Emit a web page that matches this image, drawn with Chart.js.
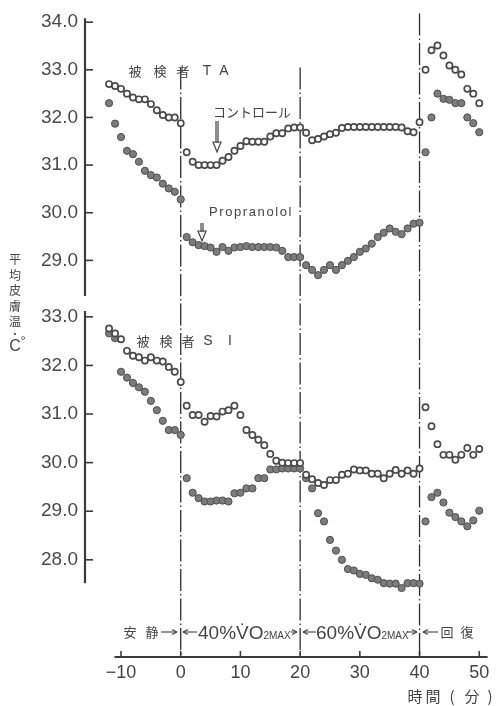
<!DOCTYPE html>
<html lang="ja">
<head>
<meta charset="utf-8">
<title>平均皮膚温の変化</title>
<script src="https://cdn.jsdelivr.net/npm/chart.js@4.4.1/dist/chart.umd.min.js"></script>
<style>
  html, body { margin: 0; padding: 0; background: #fff; }
  #wrap { width: 504px; height: 706px; }
</style>
</head>
<body>
<div id="wrap"><canvas id="chart" width="504" height="706"></canvas></div>
<script>
// --- データ (時間 = 分) ---
const minutes = [
  -12, -11, -10, -9, -8, -7, -6, -5, -4, -3, -2, -1, 0,
  1, 2, 3, 4, 5, 6, 7, 8, 9, 10, 11, 12, 13, 14, 15, 16, 17, 18, 19, 20,
  21, 22, 23, 24, 25, 26, 27, 28, 29, 30, 31, 32, 33, 34, 35, 36, 37, 38, 39, 40,
  41, 42, 43, 44, 45, 46, 47, 48, 49, 50
];

// 被検者 TA
const taControl = [
  32.70, 32.66, 32.60, 32.50, 32.42, 32.38, 32.38, 32.28, 32.15, 32.05, 32.00, 32.00, 31.88,
  31.27, 31.07, 31.00, 31.00, 31.00, 31.00, 31.09, 31.17, 31.30, 31.40, 31.50, 31.49, 31.49, 31.49, 31.60, 31.67, 31.67, 31.77, 31.79, 31.79,
  31.68, 31.52, 31.55, 31.60, 31.65, 31.68, 31.78, 31.80, 31.80, 31.80, 31.80, 31.80, 31.80, 31.80, 31.80, 31.80, 31.79, 31.71, 31.69, 31.90,
  33.00, 33.41, 33.51, 33.30, 33.09, 33.00, 32.90, 32.60, 32.50, 32.30
];
const taPropranolol = [
  32.30, 31.87, 31.59, 31.30, 31.23, 31.07, 30.88, 30.79, 30.74, 30.61, 30.51, 30.44, 30.28,
  29.49, 29.38, 29.32, 29.30, 29.27, 29.18, 29.28, 29.20, 29.27, 29.28, 29.30, 29.28, 29.28, 29.28, 29.28, 29.27, 29.20, 29.07, 29.07, 29.07,
  28.90, 28.80, 28.69, 28.80, 28.90, 28.80, 28.90, 28.99, 29.07, 29.18, 29.25, 29.35, 29.49, 29.58, 29.67, 29.60, 29.55, 29.67, 29.77, 29.79,
  31.27, 32.00, 32.50, 32.39, 32.37, 32.30, 32.30, 32.00, 31.88, 31.69
];

// 被検者 SI
const siControl = [
  32.76, 32.66, 32.54, 32.30, 32.20, 32.17, 32.10, 32.17, 32.10, 32.08, 31.97, 31.87, 31.66,
  31.17, 30.98, 30.98, 30.84, 30.96, 30.95, 31.05, 31.08, 31.17, 30.98, 30.67, 30.57, 30.47, 30.36, 30.18, 30.04, 30.00, 29.99, 29.99, 29.99,
  29.75, 29.66, 29.58, 29.54, 29.64, 29.64, 29.75, 29.77, 29.86, 29.84, 29.84, 29.77, 29.77, 29.68, 29.77, 29.85, 29.77, 29.84, 29.77, 29.88,
  31.14, 30.75, 30.38, 30.16, 30.16, 30.06, 30.16, 30.30, 30.16, 30.28
];
const siPropranolol = [
  32.66, 32.56, 31.87, 31.75, 31.64, 31.55, 31.46, 31.27, 31.08, 30.86, 30.67, 30.67, 30.57,
  29.68, 29.38, 29.27, 29.20, 29.20, 29.22, 29.22, 29.20, 29.37, 29.38, 29.47, 29.47, 29.68, 29.68, 29.86, 29.86, 29.88, 29.88, 29.88, 29.88,
  29.68, 29.47, 28.96, 28.79, 28.41, 28.19, 28.00, 27.81, 27.78, 27.71, 27.69, 27.62, 27.59, 27.52, 27.51, 27.51, 27.42, 27.52, 27.52, 27.51,
  28.79, 29.29, 29.38, 29.18, 28.97, 28.88, 28.79, 28.69, 28.81, 29.01
];

// 目盛り
const xTicks = [-10, 0, 10, 20, 30, 40, 50];
const taTicks = [29, 30, 31, 32, 33, 34];
const siTicks = [28, 29, 30, 31, 32, 33];
const phaseBounds = [0, 20, 40];

const NUM_FONT = "'Liberation Sans', Arial, sans-serif";
const JP_FONT = "'Noto Sans CJK JP', 'Noto Sans', sans-serif";
const INK = '#3c3c3c';

function toPoints(values) {
  return values.map((v, i) => ({ x: minutes[i], y: v }));
}

function openSeries(label, values, axis) {
  return {
    label: label, data: toPoints(values), yAxisID: axis, showLine: false,
    pointRadius: 3.1, pointBorderWidth: 1.7,
    pointBorderColor: '#4a4a4a', pointBackgroundColor: '#ffffff'
  };
}
function filledSeries(label, values, axis) {
  return {
    label: label, data: toPoints(values), yAxisID: axis, showLine: false,
    pointRadius: 3.6, pointBorderWidth: 1,
    pointBorderColor: '#4e4e4e', pointBackgroundColor: '#7c7c7c'
  };
}

function yAxis(ticks, min, max, weight) {
  return {
    type: 'linear', position: 'left', stack: 'temp', stackWeight: weight,
    min: min, max: max,
    grid: { display: false, drawTicks: false },
    border: { display: false },
    afterBuildTicks: s => { s.ticks = ticks.map(v => ({ value: v })); },
    afterFit: s => { s.width = 84; },
    ticks: {
      padding: 6, color: '#4a4a4a',
      font: { family: NUM_FONT, size: 19 },
      callback: v => Number(v).toFixed(1)
    }
  };
}

// 線・文字など
function line(ctx, x1, y1, x2, y2) {
  ctx.beginPath(); ctx.moveTo(x1, y1); ctx.lineTo(x2, y2); ctx.stroke();
}
function arrowH(ctx, xFrom, xTo, y) {
  const d = xTo > xFrom ? 1 : -1;
  line(ctx, xFrom, y, xTo, y);
  line(ctx, xTo, y, xTo - d * 5, y - 2.5);
  line(ctx, xTo, y, xTo - d * 5, y + 2.5);
}
function arrowDown(ctx, x, yFrom, yTo) {
  ctx.lineWidth = 1.2;
  line(ctx, x - 1, yFrom, x - 1, yTo - 9);
  line(ctx, x + 1, yFrom, x + 1, yTo - 9);
  ctx.beginPath();
  ctx.moveTo(x - 4, yTo - 10); ctx.lineTo(x + 4, yTo - 10); ctx.lineTo(x, yTo); ctx.closePath();
  ctx.stroke();
}
function chars(ctx, list, y, font) {
  ctx.font = font;
  list.forEach(([c, x]) => ctx.fillText(c, x, y));
}

const figureDecor = {
  id: 'figureDecor',
  beforeDatasetsDraw(chart) {
    const { ctx, chartArea, scales } = chart;
    const { x, yTop, yBot } = scales;
    const left = chartArea.left + 1;
    ctx.save();
    ctx.strokeStyle = INK;

    // 縦軸
    ctx.lineWidth = 2.2;
    line(ctx, left, yTop.getPixelForValue(34.08), left, yTop.getPixelForValue(28.25));
    line(ctx, left, yBot.getPixelForValue(33.12), left, yBot.getPixelForValue(27.52));
    ctx.lineWidth = 1.6;
    taTicks.forEach(v => { const p = yTop.getPixelForValue(v); line(ctx, left, p, left + 8, p); });
    siTicks.forEach(v => { const p = yBot.getPixelForValue(v); line(ctx, left, p, left + 8, p); });

    // 横軸
    const xb = chartArea.bottom;
    ctx.lineWidth = 2.2;
    line(ctx, x.getPixelForValue(-11.1), xb, x.getPixelForValue(51.4), xb);
    ctx.lineWidth = 1.6;
    xTicks.forEach(v => { const p = x.getPixelForValue(v); line(ctx, p, xb, p, xb - 6); });

    // 区間の境界 (一点鎖線)
    ctx.lineWidth = 1.3;
    ctx.strokeStyle = '#2e2e2e';
    ctx.setLineDash([22, 3, 1.5, 3]);
    phaseBounds.forEach(t => {
      const p = x.getPixelForValue(t);
      const top = t === 40 ? chartArea.top - 4 : yTop.getPixelForValue(33.05);
      line(ctx, p, top, p, xb - 2);
    });
    ctx.restore();
  },
  afterDraw(chart) {
    const { ctx } = chart;
    ctx.save();
    ctx.fillStyle = '#444';
    ctx.strokeStyle = '#444';
    ctx.textAlign = 'center';
    ctx.textBaseline = 'middle';

    // 被検者ラベル
    chars(ctx, [['被', 135], ['検', 160], ['者', 183]], 71, `13px ${JP_FONT}`);
    chars(ctx, [['T', 207], ['A', 224]], 71, `14px ${NUM_FONT}`);
    chars(ctx, [['被', 143], ['検', 166], ['者', 188]], 341, `13px ${JP_FONT}`);
    chars(ctx, [['S', 208], ['I', 230]], 341, `14px ${NUM_FONT}`);

    // コントロール / Propranolol
    ctx.font = `13px ${JP_FONT}`;
    ctx.fillText('コントロール', 252, 112);
    ctx.font = `13px ${NUM_FONT}`;
    ctx.letterSpacing = '1.6px';
    ctx.fillText('Propranolol', 251, 212);
    ctx.letterSpacing = '0px';
    arrowDown(ctx, 217, 121, 152);
    arrowDown(ctx, 202, 223, 241);

    // 縦軸タイトル
    chars(ctx, [['平', 15]], 259, `12px ${JP_FONT}`);
    chars(ctx, [['均', 15]], 275, `12px ${JP_FONT}`);
    chars(ctx, [['皮', 15]], 290, `12px ${JP_FONT}`);
    chars(ctx, [['膚', 15]], 306, `12px ${JP_FONT}`);
    chars(ctx, [['温', 15]], 321, `12px ${JP_FONT}`);
    chars(ctx, [['•', 15]], 334, `8px ${NUM_FONT}`);
    chars(ctx, [['C', 15]], 347, `16px ${NUM_FONT}`);
    chars(ctx, [['°', 23]], 341, `13px ${NUM_FONT}`);

    // 区間ラベル
    const py = 632;
    ctx.lineWidth = 1.1;
    chars(ctx, [['安', 130], ['静', 152]], py, `13px ${JP_FONT}`);
    arrowH(ctx, 161, 177, py);
    arrowH(ctx, 197, 183, py);
    arrowH(ctx, 291, 297, py);
    arrowH(ctx, 316, 303, py);
    arrowH(ctx, 407, 417, py);
    arrowH(ctx, 438, 423, py);
    chars(ctx, [['回', 447], ['復', 467]], py, `13px ${JP_FONT}`);

    ctx.textAlign = 'left';
    ctx.textBaseline = 'alphabetic';
    [[198, '40%'], [316, '60%']].forEach(([x0, pct]) => {
      ctx.font = `19px ${NUM_FONT}`;
      ctx.fillText(pct + 'V\u0307O', x0, py + 7);
      const w = ctx.measureText(pct + 'V\u0307O').width;
      ctx.font = `10px ${NUM_FONT}`;
      ctx.fillText('2MAX', x0 + w, py + 7);
    });

    // 横軸タイトル
    ctx.textAlign = 'center';
    ctx.textBaseline = 'middle';
    chars(ctx, [['時', 415], ['間', 433], ['(', 452], ['分', 472], [')', 490]], 696, `15px ${JP_FONT}`);
    ctx.restore();
  }
};

new Chart(document.getElementById('chart'), {
  type: 'scatter',
  data: {
    datasets: [
      openSeries('TA コントロール', taControl, 'yTop'),
      filledSeries('TA Propranolol', taPropranolol, 'yTop'),
      openSeries('SI コントロール', siControl, 'yBot'),
      filledSeries('SI Propranolol', siPropranolol, 'yBot')
    ]
  },
  options: {
    responsive: false,
    animation: false,
    devicePixelRatio: 1,
    layout: { padding: { top: 17, right: 14, left: 0, bottom: 0 } },
    plugins: { legend: { display: false }, tooltip: { enabled: false } },
    scales: {
      x: {
        type: 'linear', min: -16.2, max: 51.8,
        grid: { display: false, drawTicks: false },
        border: { display: false },
        afterBuildTicks: s => { s.ticks = xTicks.map(v => ({ value: v })); },
        afterFit: s => { s.height = 49; },
        ticks: {
          padding: 5, color: '#444',
          font: { family: NUM_FONT, size: 18 },
          callback: v => v < 0 ? '\u2212' + Math.abs(v) : String(v)
        }
      },
      // left-stacked axes are laid out in reverse order: bottom panel first
      yBot: yAxis(siTicks, 26.0, 33.26, 353),
      yTop: yAxis(taTicks, 28.08, 34.1, 287)
    }
  },
  plugins: [figureDecor]
});
</script>
</body>
</html>
